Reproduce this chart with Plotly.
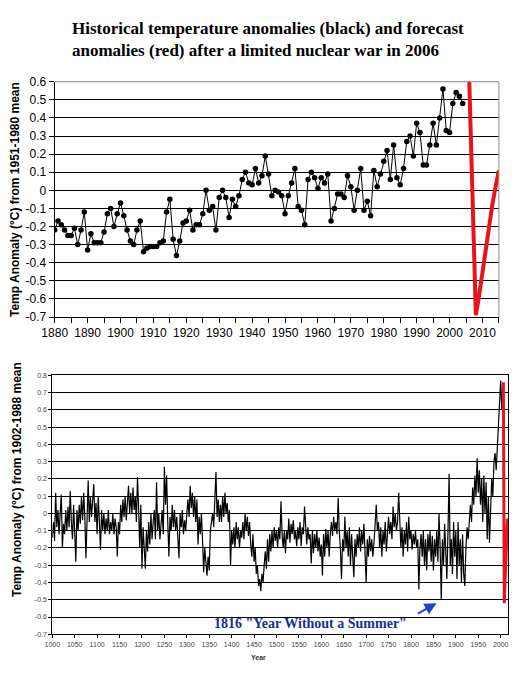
import plotly.graph_objects as go

# ---------------- data: top chart (1951-1980 base) ----------------
top_years = list(range(1880, 2005))
top_values = [
    -0.22, -0.17, -0.19, -0.22, -0.25, -0.25, -0.21, -0.30, -0.22, -0.12,   # 1880s
    -0.33, -0.24, -0.29, -0.29, -0.29, -0.23, -0.13, -0.10, -0.20, -0.13,   # 1890s
    -0.07, -0.14, -0.22, -0.28, -0.30, -0.22, -0.17, -0.34, -0.32, -0.31,   # 1900s
    -0.31, -0.31, -0.29, -0.28, -0.12, -0.05, -0.27, -0.36, -0.28, -0.18,   # 1910s
    -0.17, -0.11, -0.22, -0.19, -0.19, -0.13, 0.00, -0.11, -0.09, -0.22,    # 1920s
    -0.04, 0.00, -0.04, -0.15, -0.05, -0.09, -0.03, 0.06, 0.10, 0.04,       # 1930s
    0.03, 0.12, 0.04, 0.08, 0.19, 0.09, -0.03, 0.00, -0.01, -0.03,          # 1940s
    -0.13, -0.03, 0.04, 0.12, -0.09, -0.11, -0.19, 0.06, 0.10, 0.07,        # 1950s
    0.01, 0.07, 0.04, 0.09, -0.17, -0.10, -0.02, -0.02, -0.04, 0.08,        # 1960s
    0.02, -0.11, 0.00, 0.12, -0.11, -0.06, -0.14, 0.11, 0.02, 0.09,         # 1970s
    0.16, 0.22, 0.06, 0.25, 0.07, 0.03, 0.12, 0.27, 0.30, 0.19,             # 1980s
    0.37, 0.32, 0.14, 0.14, 0.25, 0.37, 0.25, 0.40, 0.56, 0.33,             # 1990s
    0.32, 0.48, 0.54, 0.52, 0.48,                                           # 2000s
]
top_forecast_years = [2006, 2007, 2008, 2009, 2010, 2011, 2012, 2013, 2014, 2015]
top_forecast_values = [0.60, -0.05, -0.69, -0.58, -0.45, -0.32, -0.19, -0.08, 0.02, 0.11]
top_y_ticks = [0.6, 0.5, 0.4, 0.3, 0.2, 0.1, 0.0, -0.1, -0.2, -0.3, -0.4, -0.5, -0.6, -0.7]
top_y_labels = ["0.6", "0.5", "0.4", "0.3", "0.2", "0.1", "0", "-0.1", "-0.2", "-0.3",
                "-0.4", "-0.5", "-0.6", "-0.7"]

# ---------------- data: bottom chart (1902-1988 base), 2.5-year steps ----------------
bottom_values = [
    -0.14, -0.05, -0.16, 0.12, -0.08, 0.02, -0.12, -0.02, 0.11, -0.20,    # 1000
    -0.06, -0.12, 0.02, -0.10, 0.04, -0.08, 0.13, -0.05, -0.15, 0.05,     # 1025
    -0.08, -0.28, 0.02, -0.10, 0.05, -0.06, 0.10, -0.04, 0.12, -0.02,     # 1050
    -0.26, 0.03, 0.19, -0.05, 0.10, -0.02, 0.08, 0.17, -0.05, 0.06,       # 1075
    -0.12, 0.10, -0.05, -0.21, 0.02, -0.10, 0.00, -0.12, -0.03, -0.10,    # 1100
    0.02, -0.12, -0.05, -0.10, 0.00, -0.12, -0.03, -0.08, -0.25, -0.05,   # 1125
    -0.12, 0.05, -0.05, 0.08, -0.02, 0.10, -0.04, 0.06, 0.16, 0.00,       # 1150
    0.12, 0.00, 0.15, 0.02, 0.10, -0.05, 0.21, 0.03, -0.20, 0.05,         # 1175
    -0.32, -0.08, -0.20, -0.32, -0.10, -0.22, -0.05, -0.18, 0.00, -0.15,  # 1200
    -0.05, 0.02, -0.15, 0.18, -0.10, 0.00, -0.15, -0.05, 0.02, -0.12,     # 1225
    0.27, 0.05, 0.22, -0.05, -0.25, -0.02, -0.10, 0.05, -0.08, 0.02,      # 1250
    -0.10, -0.02, -0.12, -0.26, 0.00, -0.08, 0.02, -0.12, -0.04, -0.10,   # 1275
    0.00, 0.08, -0.02, 0.16, 0.03, 0.12, -0.02, 0.10, -0.05, 0.08,        # 1300
    -0.18, -0.02, -0.12, 0.00, -0.15, -0.34, -0.20, -0.30, -0.36, -0.25,  # 1325
    -0.33, -0.10, -0.05, 0.00, -0.08, 0.05, 0.24, -0.02, 0.08, -0.05,     # 1350
    0.05, -0.05, 0.10, -0.02, 0.12, 0.00, 0.06, -0.05, 0.02, -0.30,       # 1375
    -0.10, -0.18, -0.08, -0.20, -0.05, -0.15, -0.08, -0.20, -0.10, -0.14, # 1400
    -0.05, -0.15, 0.00, -0.10, -0.02, -0.13, -0.05, -0.18, -0.25, -0.12,  # 1425
    -0.28, -0.20, -0.35, -0.30, -0.42, -0.38, -0.45, -0.35, -0.40, -0.30, # 1450
    -0.22, -0.32, -0.15, -0.28, -0.12, -0.22, -0.10, -0.20, -0.08, -0.16, # 1475
    -0.10, -0.20, -0.08, -0.15, 0.07, -0.12, -0.20, -0.10, -0.23, -0.10,  # 1500
    -0.15, -0.03, -0.17, -0.06, -0.12, -0.04, -0.15, -0.10, -0.19, -0.08, # 1525
    -0.15, -0.05, -0.19, -0.08, -0.12, 0.04, -0.10, -0.18, -0.08, -0.15,  # 1550
    -0.12, -0.29, -0.10, -0.23, -0.12, -0.20, -0.10, -0.22, -0.14, -0.25, # 1575
    -0.18, -0.36, -0.12, -0.25, -0.09, -0.20, -0.10, -0.25, -0.12, -0.05, # 1600
    -0.13, -0.02, -0.10, -0.05, -0.12, 0.09, -0.10, -0.20, -0.38, -0.15,  # 1625
    -0.22, -0.02, -0.20, -0.10, -0.25, -0.08, -0.30, -0.12, -0.25, -0.37, # 1650
    -0.15, -0.25, -0.12, -0.20, -0.08, -0.22, -0.10, -0.18, -0.06, -0.25, # 1675
    -0.40, -0.15, -0.25, -0.13, -0.22, -0.15, -0.25, -0.17, -0.05, 0.05,  # 1700
    -0.10, -0.05, -0.20, -0.08, -0.25, -0.10, -0.18, -0.05, -0.22, -0.12, # 1725
    -0.02, -0.12, -0.05, -0.15, 0.04, -0.08, 0.00, -0.10, -0.05, 0.12,    # 1750
    -0.05, -0.20, -0.08, -0.25, -0.10, -0.18, -0.05, -0.22, -0.02, -0.15, # 1775
    -0.10, -0.21, -0.12, -0.18, -0.10, -0.20, -0.15, -0.44, -0.20, -0.12, # 1800
    -0.25, -0.10, -0.30, -0.15, -0.33, -0.12, -0.22, -0.10, -0.28, -0.13, # 1825
    -0.33, -0.15, -0.25, -0.10, -0.28, 0.00, -0.20, -0.50, -0.15, -0.30,  # 1850
    -0.06, -0.25, -0.38, -0.10, 0.23, -0.30, -0.15, -0.35, -0.05, -0.25,  # 1875
    -0.10, -0.38, -0.05, -0.30, -0.15, -0.40, -0.12, -0.35, -0.42, -0.20, # 1900
    -0.08, -0.15, -0.02, 0.05, -0.05, 0.15, 0.05, 0.22, 0.10, 0.32,       # 1925
    0.12, 0.25, 0.05, 0.20, -0.05, 0.22, 0.00, 0.18, -0.15, 0.10,         # 1950
    -0.17, 0.05, 0.20, 0.10, 0.30, 0.35, 0.25, 0.38, 0.50, 0.58,          # 1975
    0.77, 0.60, 0.74,                                                     # 2000
]
bottom_years = [1000 + 2.5 * i for i in range(len(bottom_values))]
bottom_forecast_years = [2006, 2008, 2015]
bottom_forecast_values = [0.76, -0.52, -0.03]
bottom_y_ticks = [0.8, 0.7, 0.6, 0.5, 0.4, 0.3, 0.2, 0.1, 0.0, -0.1, -0.2, -0.3, -0.4, -0.5, -0.6, -0.7]
bottom_y_labels = ["0.8", "0.7", "0.6", "0.5", "0.4", "0.3", "0.2", "0.1", "0", "-0.1",
                   "-0.2", "-0.3", "-0.4", "-0.5", "-0.6", "-0.7"]

# the page body adds an 8px offset, so the figure is 8px smaller and all
# screen positions are shifted back by 8px
OFF = 8
W, H = 523 - OFF, 682 - OFF


def px(x):
    return (x - OFF) / W


def py(y):
    return 1 - (y - OFF) / H


SANS = "Liberation Sans, Arial, sans-serif"
SERIF = "Liberation Serif, Times New Roman, serif"

fig = go.Figure()
fig.add_trace(go.Scatter(x=top_years, y=top_values, mode="lines+markers",
                         line=dict(color="black", width=1),
                         marker=dict(color="black", size=5.5, symbol="circle"),
                         xaxis="x", yaxis="y"))
fig.add_trace(go.Scatter(x=top_forecast_years, y=top_forecast_values, mode="lines",
                         line=dict(color="#e8141c", width=4),
                         xaxis="x", yaxis="y"))
fig.add_trace(go.Scatter(x=bottom_years, y=bottom_values, mode="lines",
                         line=dict(color="black", width=1.2),
                         xaxis="x2", yaxis="y2"))
fig.add_trace(go.Scatter(x=bottom_forecast_years, y=bottom_forecast_values, mode="lines",
                         line=dict(color="#e8141c", width=3),
                         xaxis="x2", yaxis="y2"))

fig.update_layout(
    template="none",
    width=W, height=H, autosize=False,
    margin=dict(l=0, r=0, t=0, b=0, pad=0, autoexpand=False),
    paper_bgcolor="white", plot_bgcolor="white",
    showlegend=False,
    xaxis=dict(domain=[px(54.7), px(498.9)], range=[1880, 2015], anchor="y", automargin=False,
               tick0=1880, dtick=10, ticks="outside", ticklen=5, tickcolor="black",
               minor=dict(tick0=1880, dtick=5, ticks="outside", ticklen=5, tickcolor="black", showgrid=False),
               showline=True, linecolor="black", linewidth=1, showgrid=False, zeroline=False,
               tickfont=dict(family=SANS, size=12, color="black")),
    yaxis=dict(domain=[py(317), py(81.7)], range=[-0.7, 0.6], anchor="x", automargin=False,
               tickmode="array", tickvals=top_y_ticks, ticktext=top_y_labels,
               ticks="outside", ticklen=5, tickcolor="black",
               showline=True, linecolor="black", linewidth=1,
               showgrid=True, gridcolor="black", gridwidth=1, zeroline=False,
               tickfont=dict(family=SANS, size=12, color="black")),
    xaxis2=dict(domain=[px(52.3), px(508.3)], range=[1000, 2017], anchor="y2", automargin=False,
                tick0=1000, dtick=50, ticks="outside", ticklen=3, tickcolor="black",
                showline=True, mirror=True, linecolor="black", linewidth=1,
                showgrid=False, zeroline=False,
                tickfont=dict(family=SANS, size=7, color="#444444")),
    yaxis2=dict(domain=[py(634.3), py(375.3)], range=[-0.7, 0.8], anchor="x2", automargin=False,
                tickmode="array", tickvals=bottom_y_ticks, ticktext=bottom_y_labels,
                ticks="outside", ticklen=3, tickcolor="black",
                showline=True, mirror=True, linecolor="black", linewidth=1,
                showgrid=True, gridcolor="black", gridwidth=1, zeroline=False,
                tickfont=dict(family=SANS, size=7, color="#444444")),
)

# gray plot-area border (top and right) for the upper chart
fig.add_shape(type="line", xref="x domain", yref="y domain", x0=0, x1=1, y0=1, y1=1,
              line=dict(color="#8c8c8c", width=1))
fig.add_shape(type="line", xref="x domain", yref="y domain", x0=1, x1=1, y0=0, y1=1,
              line=dict(color="#8c8c8c", width=1))

# title
fig.add_annotation(xref="paper", yref="paper", x=px(70), y=py(17),
                   xanchor="left", yanchor="top", align="left", showarrow=False,
                   text="<b>Historical temperature anomalies (black) and forecast<br>"
                        "anomalies (red) after a limited nuclear war in 2006</b>",
                   font=dict(family=SERIF, size=17, color="black"))

# y axis titles
fig.add_annotation(xref="paper", yref="paper", x=px(15), y=py(200),
                   xanchor="center", yanchor="middle", textangle=-90, showarrow=False,
                   text="<b>Temp Anomaly (°C) from 1951-1980 mean</b>",
                   font=dict(family=SANS, size=12, color="black"))
fig.add_annotation(xref="paper", yref="paper", x=px(17), y=py(480),
                   xanchor="center", yanchor="middle", textangle=-90, showarrow=False,
                   text="<b>Temp Anomaly (°C) from 1902-1988 mean</b>",
                   font=dict(family=SANS, size=12, color="black"))

# bottom x axis title
fig.add_annotation(xref="paper", yref="paper", x=px(258), y=py(657),
                   xanchor="center", yanchor="middle", showarrow=False,
                   text="<b>Year</b>", font=dict(family=SANS, size=7, color="#333333"))

# "Year Without a Summer" annotation
fig.add_annotation(xref="x2", yref="y2", x=1575, y=-0.64,
                   xanchor="center", yanchor="middle", showarrow=False,
                   text="<b>1816 \"Year Without a Summer\"</b>",
                   font=dict(family=SERIF, size=14, color="#1c2d95"))
fig.add_annotation(xref="x2", yref="y2", x=1857, y=-0.52,
                   axref="x2", ayref="y2", ax=1812, ay=-0.585,
                   text="", showarrow=True, arrowhead=2, arrowsize=1.2,
                   arrowwidth=2, arrowcolor="#2244cc")

fig.write_html("out.html")
